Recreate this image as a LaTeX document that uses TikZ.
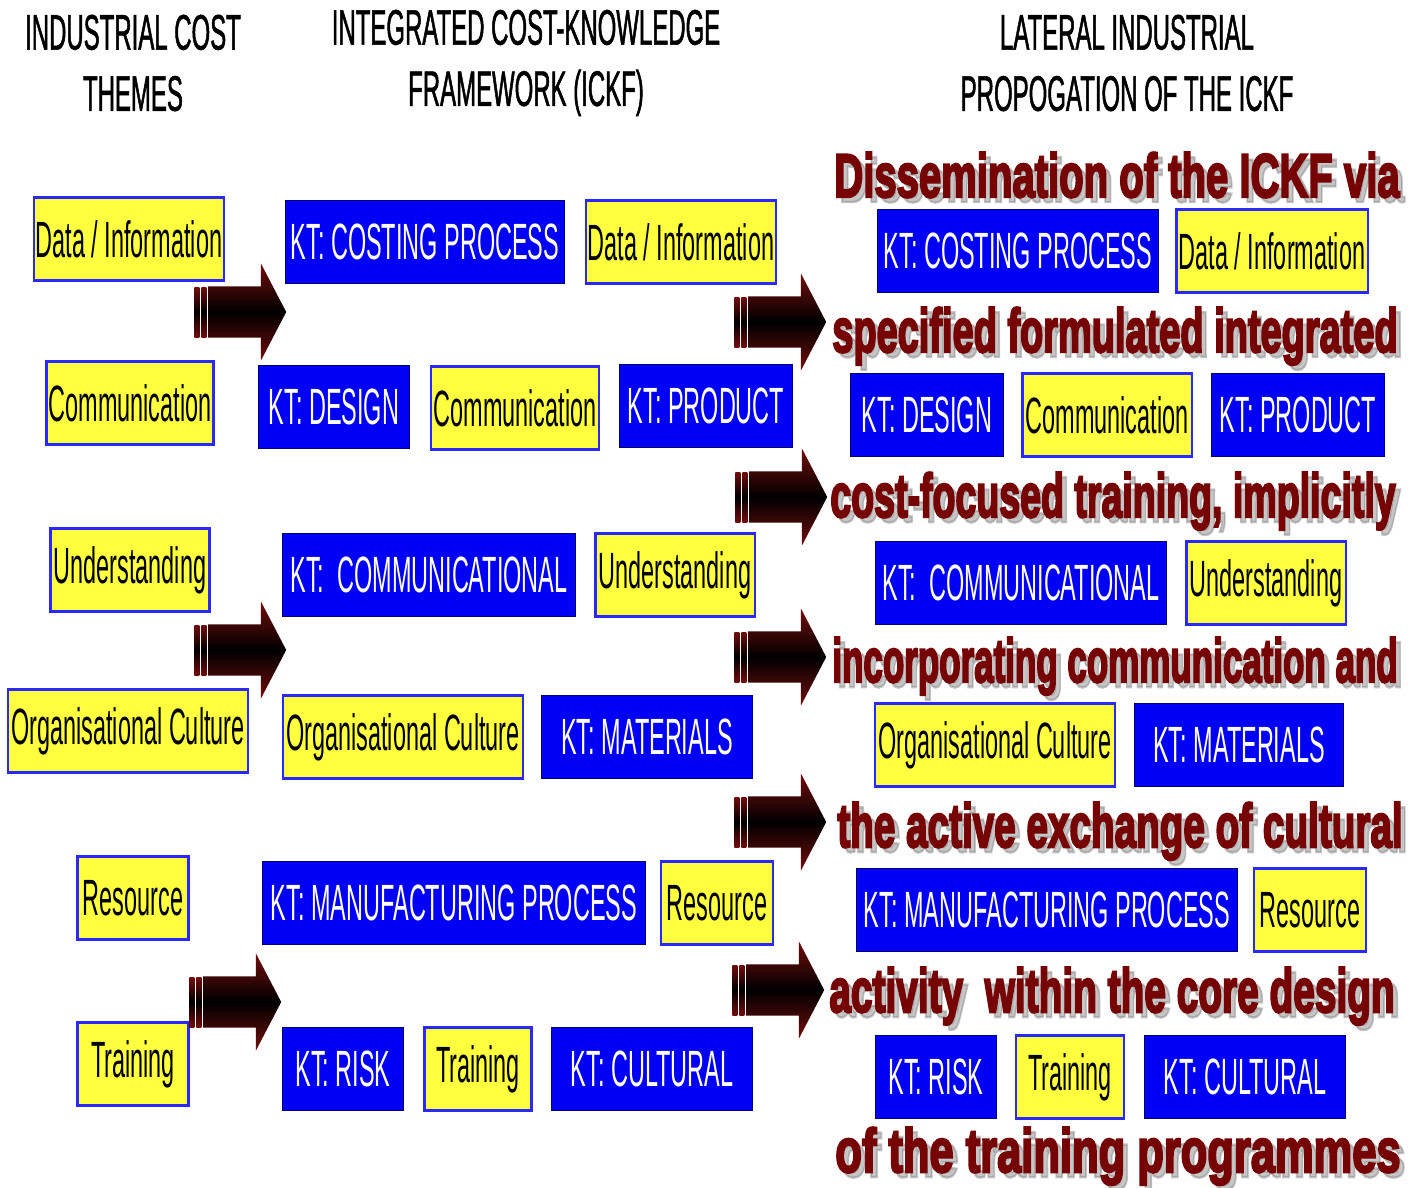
\documentclass[tikz,border=0pt]{standalone}
\usepackage{graphicx}
\usepackage{fontspec}
\setmainfont{Liberation Sans}[FakeStretch=0.46]
\newfontfamily\headfont{Liberation Sans}[FakeStretch=0.48,FakeBold=1]
\newfontfamily\bannerfont{Liberation Sans}[FakeBold=4]
\usetikzlibrary{shapes.arrows,calc}

\definecolor{ktblue}{RGB}{0,0,245}
\definecolor{ktborder}{RGB}{0,0,110}
\definecolor{themeyellow}{RGB}{255,255,64}
\definecolor{themeborder}{RGB}{40,40,255}
\definecolor{arrowred}{RGB}{115,12,12}
\definecolor{bannerred}{RGB}{118,4,4}

\tikzset{
  ktbox/.style={draw=ktborder, line width=0.3pt, fill=ktblue, text=white,
    minimum height=8.3mm, inner sep=0pt, font=\fontsize{14.5}{16}\selectfont},
  themebox/.style={draw=themeborder, line width=0.6pt, fill=themeyellow, text=black,
    minimum height=8.3mm, inner sep=0pt, font=\fontsize{14.5}{16}\selectfont},
  header/.style={align=center, font=\headfont\fontsize{14.2}{17.4}\selectfont},
  banner/.style={text=bannerred, inner sep=0pt, anchor=base,
    font=\bannerfont\bfseries\fontsize{17.5}{20}\selectfont},
  bannershadow/.style={banner, text=gray, text opacity=0.45},
  fatarrow/.style={single arrow, anchor=tip, inner xsep=0pt, inner ysep=2.5mm,
    minimum height=7.8mm, single arrow head extend=2.3mm, single arrow tip angle=125,
    top color=arrowred, bottom color=arrowred, middle color=black},
  arrowbar/.style={top color=arrowred, bottom color=arrowred, middle color=black}
}
\newcommand\bannerline[1]{\resizebox{5.65cm}{\height}{#1}}

\begin{document}
\begin{tikzpicture}[x=0.01cm, y=-0.01cm]
  \useasboundingbox (0,0) rectangle (1418,1187);

  % column headings
  \node[header] (hThemes) at (133,63)  {INDUSTRIAL COST\\THEMES};
  \node[header] (hICKF)   at (526,63)  {INTEGRATED COST-KNOWLEDGE\\FRAMEWORK (ICKF)};
  \node[header] (hLat)    at (1127,63) {LATERAL INDUSTRIAL\\PROPOGATION OF THE ICKF};

  % cost themes
  \node[themebox, minimum width=19mm]   (themeData)  at (129,239)  {Data / Information};
  \node[themebox, minimum width=16.7mm] (themeComm)  at (130,403)  {Communication};
  \node[themebox, minimum width=15.9mm] (themeUnd)   at (130,570)  {Understanding};
  \node[themebox, minimum width=24mm]   (themeOrg)   at (128,731)  {Organisational Culture};
  \node[themebox, minimum width=11.1mm] (themeRes)   at (133,898)  {Resource};
  \node[themebox, minimum width=11.1mm] (themeTrain) at (133,1064) {Training};

  % the framework
  \node[ktbox,    minimum width=27.8mm] (ickfCost)    at (425,242)  {KT: COSTING PROCESS};
  \node[themebox, minimum width=19mm]   (ickfData)    at (681,242)  {Data / Information};
  \node[ktbox,    minimum width=15.1mm] (ickfDesign)  at (334,407)  {KT: DESIGN};
  \node[themebox, minimum width=16.8mm] (ickfComm)    at (515,408)  {Communication};
  \node[ktbox,    minimum width=17.2mm] (ickfProduct) at (706,406)  {KT: PRODUCT};
  \node[ktbox,    minimum width=29.3mm] (ickfCommun)  at (429,575)  {KT:\ \ COMMUNICATIONAL};
  \node[themebox, minimum width=15.9mm] (ickfUnd)     at (675,575)  {Understanding};
  \node[themebox, minimum width=24mm]   (ickfOrg)     at (403,737)  {Organisational Culture};
  \node[ktbox,    minimum width=21.1mm] (ickfMat)     at (647,737)  {KT: MATERIALS};
  \node[ktbox,    minimum width=38.3mm] (ickfManu)    at (454,903)  {KT: MANUFACTURING PROCESS};
  \node[themebox, minimum width=11.2mm] (ickfRes)     at (717,903)  {Resource};
  \node[ktbox,    minimum width=12.1mm] (ickfRisk)    at (343,1069) {KT: RISK};
  \node[themebox, minimum width=10.7mm] (ickfTrain)   at (478,1069) {Training};
  \node[ktbox,    minimum width=20.1mm] (ickfCult)    at (652,1069) {KT: CULTURAL};

  % lateral propagation
  \node[ktbox,    minimum width=28mm]   (latCost)    at (1018,251)  {KT: COSTING PROCESS};
  \node[themebox, minimum width=19.1mm] (latData)    at (1272,251)  {Data / Information};
  \node[ktbox,    minimum width=15.2mm] (latDesign)  at (927,415)   {KT: DESIGN};
  \node[themebox, minimum width=16.9mm] (latComm)    at (1107,415)  {Communication};
  \node[ktbox,    minimum width=17.3mm] (latProduct) at (1298,415)  {KT: PRODUCT};
  \node[ktbox,    minimum width=29.1mm] (latCommun)  at (1021,583)  {KT:\ \ COMMUNICATIONAL};
  \node[themebox, minimum width=15.9mm] (latUnd)     at (1266,583)  {Understanding};
  \node[themebox, minimum width=24mm]   (latOrg)     at (995,745)   {Organisational Culture};
  \node[ktbox,    minimum width=20.9mm] (latMat)     at (1239,745)  {KT: MATERIALS};
  \node[ktbox,    minimum width=38mm]   (latManu)    at (1047,910)  {KT: MANUFACTURING PROCESS};
  \node[themebox, minimum width=11.2mm] (latRes)     at (1310,910)  {Resource};
  \node[ktbox,    minimum width=12.1mm] (latRisk)    at (936,1077)  {KT: RISK};
  \node[themebox, minimum width=10.8mm] (latTrain)   at (1070,1077) {Training};
  \node[ktbox,    minimum width=20.1mm] (latCult)    at (1245,1077) {KT: CULTURAL};

  % banner text, shadow first
  \node[bannershadow] (banAs) at (1122,202)  {\bannerline{Dissemination of the ICKF via}};
  \node[banner]       (banA)  at (1117,197)  {\bannerline{Dissemination of the ICKF via}};
  \node[bannershadow] (banBs) at (1120,357)  {\bannerline{specified formulated integrated}};
  \node[banner]       (banB)  at (1115,352)  {\bannerline{specified formulated integrated}};
  \node[bannershadow] (banCs) at (1118,522)  {\bannerline{cost-focused training, implicitly}};
  \node[banner]       (banC)  at (1113,517)  {\bannerline{cost-focused training, implicitly}};
  \node[bannershadow] (banDs) at (1120,687)  {\bannerline{incorporating communication and}};
  \node[banner]       (banD)  at (1115,682)  {\bannerline{incorporating communication and}};
  \node[bannershadow] (banEs) at (1125,852)  {\bannerline{the active exchange of cultural}};
  \node[banner]       (banE)  at (1120,847)  {\bannerline{the active exchange of cultural}};
  \node[bannershadow] (banFs) at (1117,1017) {\bannerline{activity\ \ within the core design}};
  \node[banner]       (banF)  at (1112,1012) {\bannerline{activity\ \ within the core design}};
  \node[bannershadow] (banGs) at (1123,1177) {\bannerline{of the training programmes}};
  \node[banner]       (banG)  at (1118,1172) {\bannerline{of the training programmes}};

  % block arrows with their double bars
  \foreach \a/\tx/\ty in {arrA/287/312, arrB/287/650, arrC/282/1002,
                          arrD/827/322, arrE/828/497, arrF/827/657,
                          arrG/827/822, arrH/825/990} {
    \node[fatarrow] (\a) at (\tx,\ty) {};
    \shade[arrowbar] ($(\a.tail)+(-13,-25)$) rectangle ($(\a.tail)+(-8,25)$);
    \shade[arrowbar] ($(\a.tail)+(-6,-25)$) rectangle ($(\a.tail)+(-1,25)$);
  }
\end{tikzpicture}
\end{document}
